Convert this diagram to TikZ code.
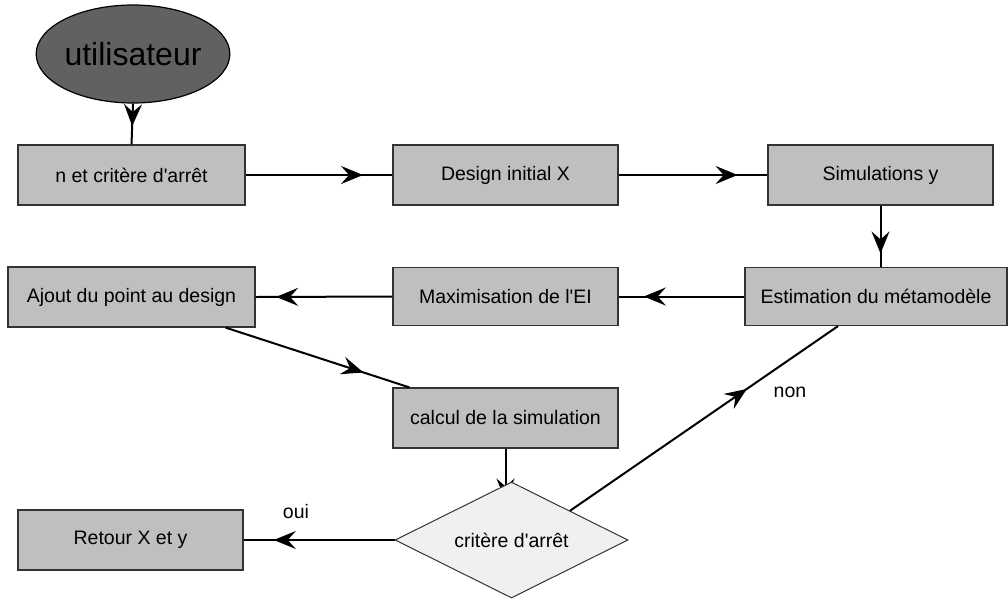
\documentclass[tikz,border=0pt]{standalone}
\usepackage{fontspec}
\setmainfont{Liberation Sans}
\usetikzlibrary{shapes.geometric,arrows.meta,decorations.markings,backgrounds}
\definecolor{boxgray}{rgb}{0.75,0.75,0.75}
\definecolor{usergray}{rgb}{0.38,0.38,0.38}
\definecolor{diamgray}{rgb}{0.94,0.94,0.94}
\definecolor{edgegray}{rgb}{0.2,0.2,0.2}
\newcommand{\apos}{\textquotesingle}

\tikzset{
  stepbox/.style={draw=edgegray, line width=1.2pt, fill=boxgray,
    minimum width=225pt, minimum height=60pt, inner sep=0pt,
    font=\fontsize{19.5}{23}\selectfont},
  flow/.style={line width=2pt, postaction={decorate},
    decoration={markings, mark=at position #1 with
      {\arrow{Stealth[length=22pt,width=18pt,inset=8pt]}}}},
  flow/.default=0.8,
  lbl/.style={font=\fontsize{19.5}{23}\selectfont}
}

\begin{document}
\begin{tikzpicture}[x=1pt,y=-1pt]
\useasboundingbox (0,0) rectangle (1008,603);

% nodes
\node[ellipse, draw=black, line width=1.2pt, fill=usergray,
  minimum width=183pt, minimum height=98pt, inner sep=0pt,
  font=\fontsize{32}{36}\selectfont] (user) at (133,54) {utilisateur};

\node[stepbox, minimum width=227pt] (params) at (131.5,175) {n et crit\`ere d\apos arr\^et};
\node[stepbox] (design) at (505.5,175) {Design initial X};
\node[stepbox] (simu) at (880.5,175) {Simulations y};

\node[stepbox, minimum width=262pt, minimum height=58pt] (estim) at (876,296.5) {Estimation du m\'etamod\`ele};
\node[stepbox, minimum height=58pt] (maxi) at (505.5,296.5) {Maximisation de l\apos EI};
\node[stepbox, minimum width=247pt] (ajout) at (131.5,297) {Ajout du point au design};

\node[stepbox] (calcul) at (505.5,418) {calcul de la simulation};

\node[diamond, aspect=2, draw=edgegray, line width=1pt, fill=diamgray,
  minimum width=233pt, minimum height=116pt, inner sep=0pt,
  font=\fontsize{19.5}{23}\selectfont] (critere) at (511.5,540) {crit\`ere d\apos arr\^et};
\node[stepbox] (retour) at (130.5,540) {Retour X et y};

% connectors
\draw[flow=0.55] (user.south) -- (params.north);
\draw[flow] (params.east) -- (design.west);
\draw[flow] (design.east) -- (simu.west);
\draw[flow=0.78] (simu.south) -- (simu.south |- estim.north);
\draw[flow] (estim.west) -- (maxi.west -| maxi.east);
\draw[flow=0.85] (maxi.west) -- (ajout.east);
\draw[flow=0.75] ([xshift=-30pt]ajout.south east) -- ([xshift=17pt]calcul.north west);
\begin{scope}[on background layer]
\draw[line width=2pt, -{Stealth[length=22pt,width=18pt,inset=8pt]}]
  (calcul.south) -- ([yshift=-19pt]calcul.south |- critere.north);
\end{scope}
\draw[flow=0.8] (critere.west) -- (retour.east);
\draw[flow=0.66] (critere.north east) -- ([xshift=-38pt]estim.south);

% labels
\node[lbl] (oui) at (296,512) {oui};
\node[lbl] (non) at (790,392) {non};
\end{tikzpicture}
\end{document}
